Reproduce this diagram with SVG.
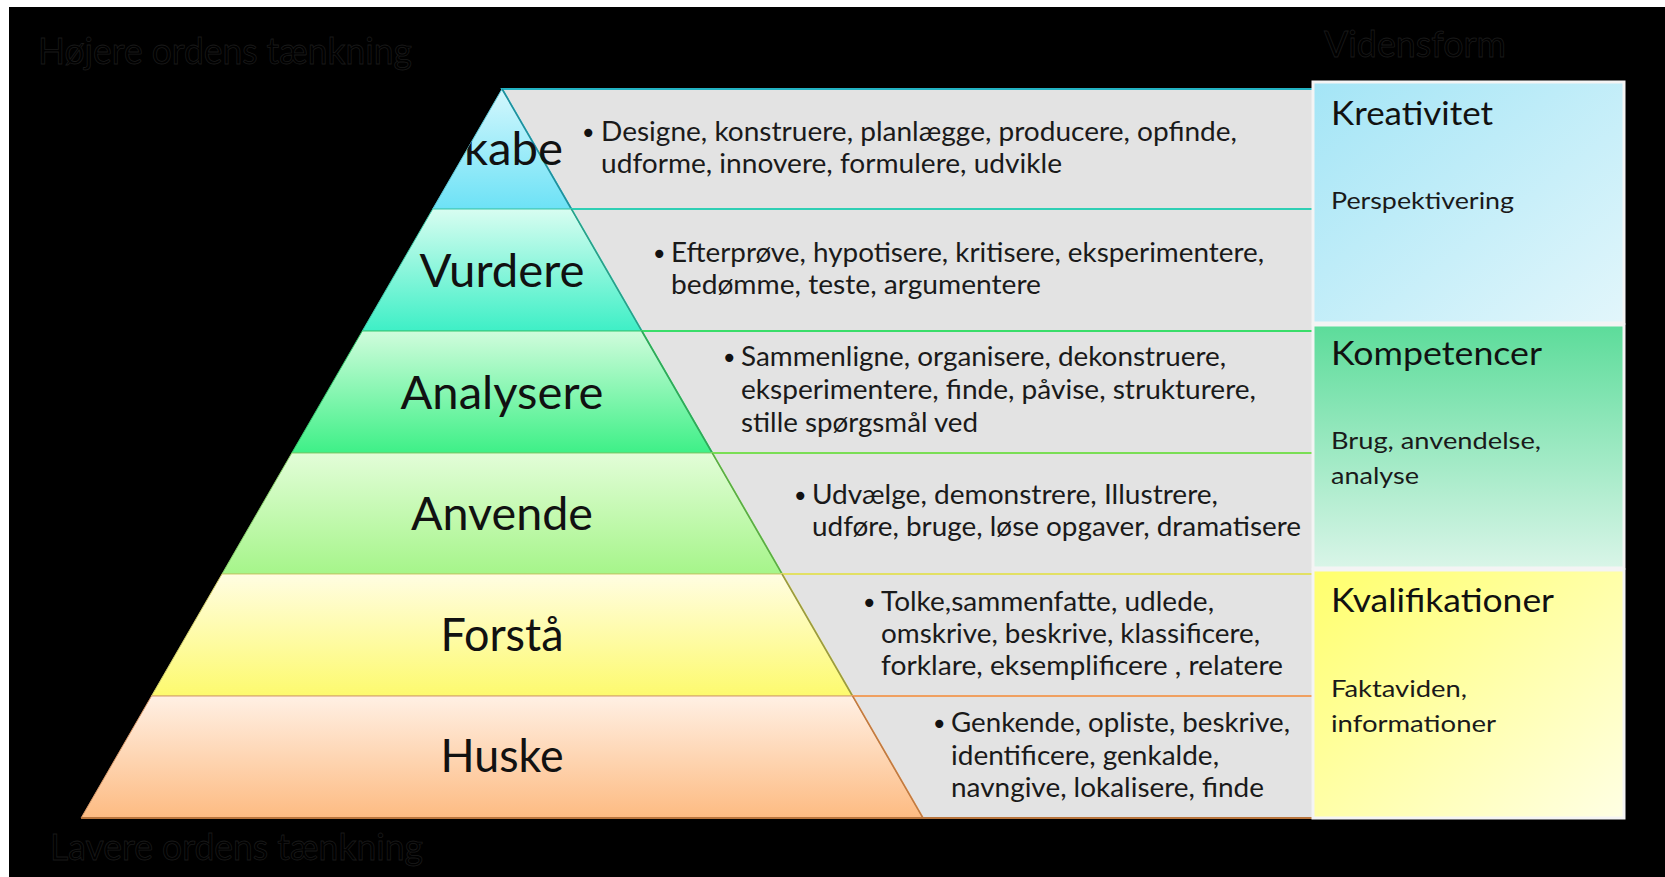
<svg xmlns="http://www.w3.org/2000/svg" width="1665" height="877" viewBox="0 0 1665 877">
<style>
.lbl{font-family:Lato,"Open Sans","Liberation Sans",sans-serif;font-size:47px;fill:#111;text-anchor:middle}
.desc{font-family:Lato,"Open Sans","Liberation Sans",sans-serif;font-size:26px;fill:#1a1a1a}
.bul{font-family:"DejaVu Sans",sans-serif;font-size:28px;fill:#111}
.h1{font-family:Lato,"Open Sans","Liberation Sans",sans-serif;font-size:33px;fill:#111}
.h2{font-family:Lato,"Open Sans","Liberation Sans",sans-serif;font-size:24px;fill:#1a1a1a}
.ttl{font-family:Lato,"Open Sans","Liberation Sans",sans-serif;font-size:36px;fill:#000;stroke:#1a1a1a;stroke-width:0.8}
.band{fill:#e3e3e3;stroke-width:2}
.box{stroke:#f4f4f4;stroke-width:3}
</style>
<defs>
<linearGradient id="g1" x1="0" y1="0" x2="0" y2="1"><stop offset="0" stop-color="#d4f7fd"/><stop offset="1" stop-color="#6de2f6"/></linearGradient>
<linearGradient id="g2" x1="0" y1="0" x2="0" y2="1"><stop offset="0" stop-color="#d8fdf1"/><stop offset="1" stop-color="#3eefc6"/></linearGradient>
<linearGradient id="g3" x1="0" y1="0" x2="0" y2="1"><stop offset="0" stop-color="#d0fcdc"/><stop offset="1" stop-color="#3ef087"/></linearGradient>
<linearGradient id="g4" x1="0" y1="0" x2="0" y2="1"><stop offset="0" stop-color="#e2fdd8"/><stop offset="1" stop-color="#a6f58a"/></linearGradient>
<linearGradient id="g5" x1="0" y1="0" x2="0" y2="1"><stop offset="0" stop-color="#fffde2"/><stop offset="1" stop-color="#fdfa6e"/></linearGradient>
<linearGradient id="g6" x1="0" y1="0" x2="0" y2="1"><stop offset="0" stop-color="#fff0e4"/><stop offset="1" stop-color="#fdbb82"/></linearGradient>
<linearGradient id="b1" x1="0" y1="0" x2="1" y2="1"><stop offset="0" stop-color="#a4e5f6"/><stop offset="1" stop-color="#e2f6fb"/></linearGradient>
<linearGradient id="b2" x1="0" y1="0" x2="0" y2="1"><stop offset="0" stop-color="#5cdc9a"/><stop offset="1" stop-color="#d9f5e8"/></linearGradient>
<linearGradient id="b3" x1="0" y1="0" x2="1" y2="1"><stop offset="0" stop-color="#ffff6c"/><stop offset="1" stop-color="#ffffe4"/></linearGradient>
<clipPath id="pyrclip"><polygon points="502,89 1310,89 1310,818 81,818"/></clipPath>
</defs>

<rect x="0" y="0" width="1665" height="877" fill="#ffffff"/>
<rect x="9" y="7" width="1656" height="870" fill="#000000"/>

<text class="ttl" x="38" y="64" textLength="374" lengthAdjust="spacingAndGlyphs">Højere ordens tænkning</text>
<text class="ttl" x="1324" y="57" textLength="182" lengthAdjust="spacingAndGlyphs">Vidensform</text>
<text class="ttl" x="50" y="860" textLength="373" lengthAdjust="spacingAndGlyphs">Lavere ordens tænkning</text>

<g id="connectors"></g>

<g id="tier-skabe">
<polygon class="band" stroke="#23b3c3" points="502,89 1313,89 1313,209 571.3,209"/>
<polygon fill="url(#g1)" stroke="#5bc8d8" stroke-width="1" points="502,89 571.3,209 432.7,209"/>
<line x1="502" y1="89" x2="571.3" y2="209" stroke="#1f8f9c" stroke-width="1.5"/>
<text class="lbl" x="464" y="165" style="text-anchor:start" clip-path="url(#pyrclip)" textLength="99" lengthAdjust="spacingAndGlyphs">kabe</text>
<text class="bul" x="580" y="143">•</text>
<text class="desc" x="601" y="141" textLength="636" lengthAdjust="spacingAndGlyphs">Designe, konstruere, planlægge, producere, opfinde,</text>
<text class="desc" x="601" y="173" textLength="461" lengthAdjust="spacingAndGlyphs">udforme, innovere, formulere, udvikle</text>
</g>

<g id="tier-vurdere">
<polygon class="band" stroke="#2fcfb4" points="571.3,209 1313,209 1313,331 641.7,331"/>
<polygon fill="url(#g2)" stroke="#3cc9a8" stroke-width="1" points="432.7,209 571.3,209 641.7,331 362.3,331"/>
<line x1="571.3" y1="209" x2="641.7" y2="331" stroke="#2a9e88" stroke-width="1.5"/>
<text class="lbl" x="502" y="287" textLength="165" lengthAdjust="spacingAndGlyphs">Vurdere</text>
<text class="bul" x="651" y="264">•</text>
<text class="desc" x="671" y="262" textLength="593" lengthAdjust="spacingAndGlyphs">Efterprøve, hypotisere, kritisere, eksperimentere,</text>
<text class="desc" x="671" y="294" textLength="370" lengthAdjust="spacingAndGlyphs">bedømme, teste, argumentere</text>
</g>

<g id="tier-analysere">
<polygon class="band" stroke="#3add6a" points="641.7,331 1313,331 1313,453 712.2,453"/>
<polygon fill="url(#g3)" stroke="#35c86e" stroke-width="1" points="362.3,331 641.7,331 712.2,453 291.8,453"/>
<line x1="641.7" y1="331" x2="712.2" y2="453" stroke="#2fa85a" stroke-width="1.5"/>
<text class="lbl" x="502" y="409" textLength="203" lengthAdjust="spacingAndGlyphs">Analysere</text>
<text class="bul" x="721" y="368">•</text>
<text class="desc" x="741" y="366" textLength="485" lengthAdjust="spacingAndGlyphs">Sammenligne, organisere, dekonstruere,</text>
<text class="desc" x="741" y="399" textLength="515" lengthAdjust="spacingAndGlyphs">eksperimentere, finde, påvise, strukturere,</text>
<text class="desc" x="741" y="432" textLength="237" lengthAdjust="spacingAndGlyphs">stille spørgsmål ved</text>
</g>

<g id="tier-anvende">
<polygon class="band" stroke="#7ade55" points="712.2,453 1313,453 1313,574 782,574"/>
<polygon fill="url(#g4)" stroke="#86cf6a" stroke-width="1" points="291.8,453 712.2,453 782,574 222,574"/>
<line x1="712.2" y1="453" x2="782" y2="574" stroke="#5aaa44" stroke-width="1.5"/>
<text class="lbl" x="502" y="530" textLength="182" lengthAdjust="spacingAndGlyphs">Anvende</text>
<text class="bul" x="792" y="506">•</text>
<text class="desc" x="812" y="504" textLength="406" lengthAdjust="spacingAndGlyphs">Udvælge, demonstrere, Illustrere,</text>
<text class="desc" x="812" y="536" textLength="489" lengthAdjust="spacingAndGlyphs">udføre, bruge, løse opgaver, dramatisere</text>
</g>

<g id="tier-forstaa">
<polygon class="band" stroke="#e2e064" points="782,574 1313,574 1313,696 852.5,696"/>
<polygon fill="url(#g5)" stroke="#cfcc6a" stroke-width="1" points="222,574 782,574 852.5,696 151.5,696"/>
<line x1="782" y1="574" x2="852.5" y2="696" stroke="#9a9a40" stroke-width="1.5"/>
<text class="lbl" x="502" y="651" textLength="123" lengthAdjust="spacingAndGlyphs">Forstå</text>
<text class="bul" x="861" y="613">•</text>
<text class="desc" x="881" y="611" textLength="333" lengthAdjust="spacingAndGlyphs">Tolke,sammenfatte, udlede,</text>
<text class="desc" x="881" y="643" textLength="379" lengthAdjust="spacingAndGlyphs">omskrive, beskrive, klassificere,</text>
<text class="desc" x="881" y="675" textLength="402" lengthAdjust="spacingAndGlyphs">forklare, eksemplificere , relatere</text>
</g>

<g id="tier-huske">
<polygon class="band" stroke="#f0a060" points="852.5,696 1313,696 1313,818 922.9,818"/>
<polygon fill="url(#g6)" stroke="#d89a6a" stroke-width="1" points="151.5,696 852.5,696 922.9,818 81.1,818"/>
<line x1="852.5" y1="696" x2="922.9" y2="818" stroke="#c07a40" stroke-width="1.5"/>
<line x1="81.1" y1="818" x2="1313" y2="818" stroke="#b8743c" stroke-width="2"/>
<text class="lbl" x="502" y="772" textLength="123" lengthAdjust="spacingAndGlyphs">Huske</text>
<text class="bul" x="931" y="734">•</text>
<text class="desc" x="951" y="732" textLength="339" lengthAdjust="spacingAndGlyphs">Genkende, opliste, beskrive,</text>
<text class="desc" x="951" y="765" textLength="268" lengthAdjust="spacingAndGlyphs">identificere, genkalde,</text>
<text class="desc" x="951" y="797" textLength="313" lengthAdjust="spacingAndGlyphs">navngive, lokalisere, finde</text>
</g>

<g id="box-kreativitet">
<rect class="box" x="1313" y="82" width="311" height="241" fill="url(#b1)"/>
<text class="h1" x="1331" y="125" textLength="162" lengthAdjust="spacingAndGlyphs">Kreativitet</text>
<text class="h2" x="1331" y="209" textLength="183" lengthAdjust="spacingAndGlyphs">Perspektivering</text>
</g>

<g id="box-kompetencer">
<rect class="box" x="1313" y="325" width="311" height="243" fill="url(#b2)"/>
<text class="h1" x="1331" y="365" textLength="211" lengthAdjust="spacingAndGlyphs">Kompetencer</text>
<text class="h2" x="1331" y="449" textLength="210" lengthAdjust="spacingAndGlyphs">Brug, anvendelse,</text>
<text class="h2" x="1331" y="484" textLength="88" lengthAdjust="spacingAndGlyphs">analyse</text>
</g>

<g id="box-kvalifikationer">
<rect class="box" x="1313" y="570" width="311" height="248" fill="url(#b3)"/>
<text class="h1" x="1331" y="612" textLength="223" lengthAdjust="spacingAndGlyphs">Kvalifikationer</text>
<text class="h2" x="1331" y="697" textLength="136" lengthAdjust="spacingAndGlyphs">Faktaviden,</text>
<text class="h2" x="1331" y="732" textLength="165" lengthAdjust="spacingAndGlyphs">informationer</text>
</g>
</svg>
